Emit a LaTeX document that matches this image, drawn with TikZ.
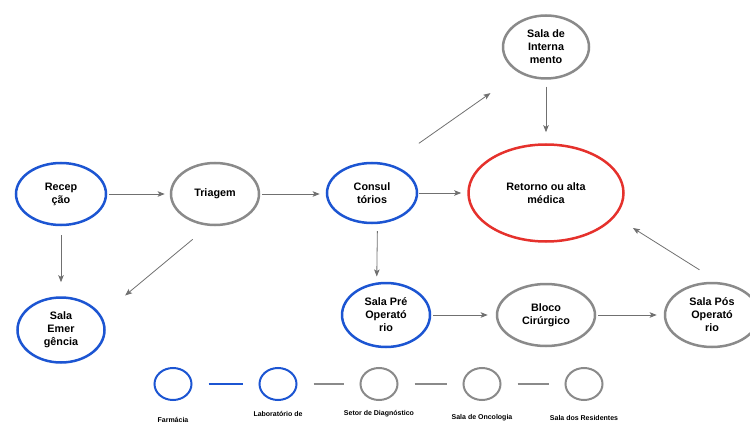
\documentclass[tikz,border=0pt]{standalone}
\usepackage{fontspec}
\setmainfont{Liberation Sans}
\usetikzlibrary{shapes}
\usetikzlibrary{arrows.meta}

\definecolor{roomBlue}{HTML}{1C55D2}
\definecolor{roomGray}{HTML}{8A8A8A}
\definecolor{roomRed}{HTML}{E5312C}
\definecolor{flowGray}{HTML}{707070}

\tikzset{
	room/.style={ellipse, line width=2.5pt, align=center, inner sep=0pt, font=\fontsize{10.8}{13}\selectfont\bfseries},
	blueRoom/.style={room, draw=roomBlue},
	grayRoom/.style={room, draw=roomGray},
	redRoom/.style={room, draw=roomRed},
	flow/.style={draw=flowGray, line width=0.8pt, -{Stealth[length=7pt, width=5.5pt, inset=1.5pt]}},
	keyRoom/.style={ellipse, line width=2pt, minimum width=37pt, minimum height=32pt, inner sep=0pt},
	keyLine/.style={line width=1.6pt, shorten <=16pt, shorten >=16pt},
	keyText/.style={font=\fontsize{7}{8.5}\selectfont\bfseries, align=center}
}

\begin{document}
\begin{tikzpicture}[x=1pt, y=-1pt]
	\useasboundingbox (0,0) rectangle (750,425);

	\node[blueRoom, minimum width=90pt, minimum height=62pt](recepcao) at (61,194){Recep\\ção};
	\node[grayRoom, minimum width=88pt, minimum height=62pt](triagem) at (215,194){Triagem};
	\node[blueRoom, minimum width=90pt, minimum height=60pt](consultorios) at (372,193){Consul\\tórios};
	\node[redRoom, minimum width=155pt, minimum height=97pt](retorno) at (546,193){Retorno ou alta\\médica};
	\node[grayRoom, minimum width=86pt, minimum height=63pt](internamento) at (546,47){Sala de\\Interna\\mento};

	\node[blueRoom, minimum width=87pt, minimum height=65pt](emergencia) at (61,330){Sala\\Emer\\gência};
	\node[blueRoom, minimum width=88pt, minimum height=64pt](preOp) at (386,315){Sala Pré\\Operató\\rio};
	\node[grayRoom, minimum width=98pt, minimum height=62pt](bloco) at (546,315){Bloco\\Cirúrgico};
	\node[grayRoom, minimum width=94pt, minimum height=64pt](posOp) at (712,315){Sala Pós\\Operató\\rio};

	% fluxo
	\draw[flow, shorten <=2pt, shorten >=5pt](recepcao) -- (triagem);
	\draw[flow, shorten <=2pt, shorten >=6pt](triagem.east) -- (consultorios.west |- triagem.east);
	\draw[flow, shorten <=1pt, shorten >=6pt](consultorios) -- (retorno);
	\draw[flow, shorten <=36pt, shorten >=35pt](consultorios.59) -- (internamento.224);
	\draw[flow, shorten <=7pt, shorten >=11pt](internamento) -- (retorno);
	\draw[flow, shorten <=9pt, shorten >=14pt](recepcao) -- (emergencia);
	\draw[flow, shorten <=21pt, shorten >=31pt](triagem.259) -- (emergencia.20);
	\draw[flow, shorten <=7pt, shorten >=6pt](consultorios.280) -- (preOp.106);
	\draw[flow, shorten <=2pt, shorten >=8pt](preOp) -- (bloco);
	\draw[flow, shorten <=2pt, shorten >=7pt](bloco) -- (posOp);
	\draw[flow, shorten <=23pt, shorten >=21pt](posOp.78) -- (retorno.341);

	% legenda
	\node[keyRoom, draw=roomBlue](keyFarmacia) at (173,384){};
	\node[keyRoom, draw=roomBlue](keyLaboratorio) at (278,384){};
	\node[keyRoom, draw=roomGray](keyDiagnostico) at (379,384){};
	\node[keyRoom, draw=roomGray](keyOncologia) at (482,384){};
	\node[keyRoom, draw=roomGray](keyResidentes) at (584,384){};

	\draw[keyLine, draw=roomBlue](keyFarmacia) -- (keyLaboratorio);
	\draw[keyLine, draw=roomGray](keyLaboratorio) -- (keyDiagnostico);
	\draw[keyLine, draw=roomGray](keyDiagnostico) -- (keyOncologia);
	\draw[keyLine, draw=roomGray](keyOncologia) -- (keyResidentes);

	\node[keyText](lblFarmacia) at (173,420){Farmácia};
	\node[keyText](lblLaboratorio) at (278,414){Laboratório de};
	\node[keyText](lblDiagnostico) at (379,414){Setor de Diagnóstico};
	\node[keyText](lblOncologia) at (482,418){Sala de Oncologia};
	\node[keyText](lblResidentes) at (584,418){Sala dos Residentes};

\end{tikzpicture}
\end{document}
